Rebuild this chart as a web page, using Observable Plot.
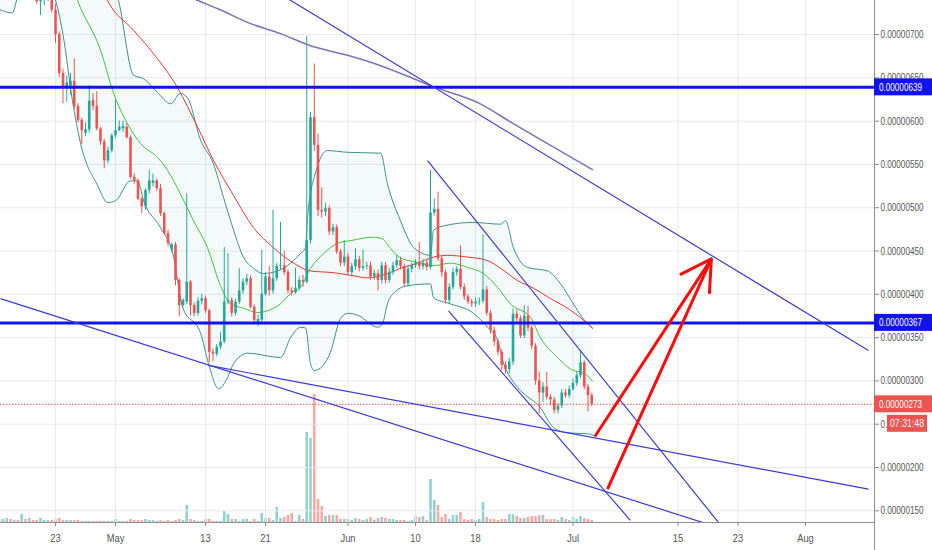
<!DOCTYPE html>
<html><head><meta charset="utf-8">
<script src="https://cdn.jsdelivr.net/npm/d3@7"></script>
<script src="https://cdn.jsdelivr.net/npm/@observablehq/plot@0.6"></script>
<style>
body{margin:0;background:#fff;}
#wrap{position:relative;width:932px;height:550px;overflow:hidden;font-family:"Liberation Sans",Arial,sans-serif;background:#fff;}
#wrap svg{position:absolute;left:0;top:0;}
.axl{position:absolute;background:#8f8f8f;}
</style></head><body><div id="wrap"></div>
<script>
// ---- time: 12h candles, slot 0 = 2019-05-01 00:00 UTC, first candle slot -31
const T0 = Date.UTC(2019, 4, 1);
const H12 = 12 * 3600 * 1000;
const slot = k => new Date(T0 + k * H12);
const firstSlot = -31;

// prices in 1e-8 units (satoshi): 639 means 0.00000639
const open = [
790,780,792,800,788,790,781,805,790,796,
775,738,740,742,745,728,700,655,638,640,
646,617,601,586,590,624,617,591,576,554,
566,583,589,591,593,581,535,531,510,501,
520,528,531,522,493,470,451,457,416,387,
391,414,387,378,392,395,381,333,331,339,
345,391,393,378,391,404,414,418,385,367,
370,400,420,404,418,432,433,425,404,402,
407,416,414,462,604,572,497,495,499,472,
477,449,436,443,425,432,440,430,432,433,
420,424,416,433,416,425,433,439,432,412,
429,433,436,432,436,431,494,498,441,425,
393,408,425,429,408,397,391,389,391,392,
405,378,358,345,333,318,313,322,377,372,
352,375,361,340,300,286,293,281,278,266,
271,286,283,290,297,306,321,293,283];
const high = [
800,798,805,808,795,796,812,810,800,800,
778,746,748,752,750,735,703,660,652,655,
672,620,603,598,641,632,634,593,579,570,
585,624,600,600,597,583,539,533,512,522,
543,539,533,527,495,474,459,460,418,395,
516,416,390,396,400,398,383,337,342,356,
454,447,396,394,430,418,423,421,388,376,
451,425,432,497,436,483,450,428,408,430,
420,422,698,610,666,585,523,505,502,481,
480,452,462,447,436,453,444,451,437,437,
428,428,437,437,430,437,445,443,435,433,
436,440,460,440,440,543,510,518,445,428,
412,430,432,456,412,400,394,396,396,469,
409,381,362,348,336,322,326,383,382,375,
387,386,364,343,310,298,310,284,281,274,
290,290,294,302,310,335,323,296,286];
const low = [
775,772,785,782,780,776,778,785,782,770,
735,722,733,738,725,690,650,620,622,630,
614,598,573,582,586,612,589,572,545,551,
563,580,588,587,579,533,527,508,493,497,
516,524,519,490,468,455,448,410,374,385,
388,375,374,375,388,378,321,322,328,336,
343,388,374,375,388,400,410,383,367,363,
367,398,398,400,415,428,422,400,398,400,
404,408,412,458,565,490,488,490,468,468,
446,432,432,421,420,428,426,427,428,416,
416,404,412,412,413,422,430,428,408,408,
425,430,428,428,427,428,490,438,420,389,
388,405,421,405,393,388,385,385,387,389,
375,354,340,329,312,308,308,318,368,349,
349,357,336,295,262,275,278,272,262,262,
268,280,280,288,294,303,290,264,270];
const close = [
780,792,800,788,790,781,805,790,796,775,
738,740,742,745,728,700,655,640,644,646,
617,601,589,590,623,617,591,576,554,566,
583,589,593,594,581,535,531,510,501,520,
531,531,522,493,470,459,457,416,387,393,
414,387,378,392,395,381,333,331,339,345,
391,393,378,391,404,414,418,385,370,371,
400,420,404,418,432,433,425,404,402,407,
416,414,462,604,572,497,495,499,472,477,
449,436,443,425,432,440,430,432,433,420,
424,416,433,416,425,433,439,432,412,429,
433,436,432,436,431,494,498,441,425,393,
408,425,429,408,397,391,389,391,392,405,
378,358,345,333,318,313,322,377,372,352,
375,361,340,300,286,293,281,278,266,271,
286,283,290,297,306,321,293,283,273];
const volume = [
2,3,4,3,2,2,8,3,4,2,
2,4,2,2,2,3,4,2,2,2,
2,2,1,1,1,1,1,1,1,1,
1,3,1,1,1,3,2,2,2,3,
2,2,1,2,1,2,1,2,3,2,
17,3,2,1,1,3,3,1,1,1,
11,8,3,3,1,3,3,1,3,1,
9,4,4,2,15,4,5,7,9,1,
7,3,90,84,128,23,16,6,7,7,
7,3,3,3,2,4,3,2,3,5,
2,4,5,4,3,3,2,2,2,1,
2,6,5,6,2,43,22,17,5,8,
3,7,7,10,3,2,3,2,3,20,
5,3,3,2,3,3,8,8,6,4,
4,5,6,6,7,7,3,3,3,2,
5,3,2,5,3,6,4,3,2];

// indicators (slot, price)
const bbUpperK = [-31,-20,-8,-2,0.8,4.8,7.5,11.2,14.7,17.3,19.2,22.7,26.1,28.8,31.5,34.1,36.8,39.5,43.2,46.7,49.3,50.7,51.2,53.3,56.5,61.9,70.7,72.5,76,79.5,84,84.8,87.5,95.2,102.7,104,106.1,109.9,115.2,118.7,122.1,124.5,127.2];
const bbUpperV = [860,880,840,770,739,653,649,633,620,632,627,578,551,512,474,443,430,424,427,436,447,454,489,540,566,564,563,528,485,454,445,474,479,483,481,485,454,431,427,412,389,373,361];
const bbLowerK = [-31,-27.5,-26,-22,-17,-14,-11.5,-9.3,-4.8,-2.1,0,4,5.9,7.5,12,15.3,17.9,22.7,24.8,27.5,29.9,31.5,35.2,44,46.7,49.3,50.7,52,53,54.7,57.3,60,61.9,64.5,69.9,71.2,72.5,74.1,77.9,84,84.8,89.3,95.5,99.2,101.9,103.5,105.3,108,113.3,116.8,120.5,125.9,127.5];
const bbLowerV = [729,725,745,765,750,700,624,574,526,506,508,531,531,508,477,447,385,355,320,291,304,320,332,327,350,362,361,320,312,315,333,372,378,376,362,366,389,401,410,412,396,389,378,362,347,320,304,289,269,246,240,239,237];
const basisK = [-14,-10.1,-4,-0.5,3.2,6.7,11.2,13.9,17.3,20.8,24.5,28,30.7,34.1,37.9,40.5,44,46.7,49.3,52,55.5,59.2,62.7,68.8,71.2,73.3,76,80.5,84.8,89.3,93.9,98.1,101.9,105.3,110.7,113.3,117.9,122.1,124.5,127.2];
const basisV = [790,739,682,632,597,574,558,543,516,485,454,410,389,384,379,381,389,401,408,430,447,459,462,466,464,453,442,437,433,436,431,424,408,389,373,350,327,312,310,300];
const ma50K = [-6,-2.1,4.8,10.1,16.5,21.9,26.1,31.5,36.8,42.1,47.5,52,58.1,62.7,67.2,72.5,76,80.5,84.8,88.5,93.9,99.2,102.7,107.2,111.5,116,120.5,124,127.2];
const ma50V = [780,739,705,678,639,593,555,514,477,454,436,427,425,422,419,424,430,436,443,445,443,439,430,416,407,395,384,373,361];
const ma200K = [17.3,22.1,27.2,35.2,44,52,61.9,70.7,79.5,84,97.3,106.1,115.2,127.2];
const ma200V = [748,739,730,714,701,687,676,664,649,641,620,597,574,544];

// drawn trend lines (slot, price) endpoints
const trendK1 = [40, -30.67, 24.8, 83.2, 88.8];
const trendV1 = [757, 395, 318, 554.5, 381];
const trendK2 = [200.8, 161.3, 200.8, 160.8, 137.3];
const trendV2 = [335, 130, 175, 136.5, 139];
// red arrows: first one carries the head, second one joins at the tip
const arrowK1 = [128, 131.2];
const arrowV1 = [237, 175];
const arrowK2 = [158.9, 158.9];
const arrowV2 = [441, 441];
const levels = [639, 367];
const lastPrice = 273;
const countdown = "07:31:48";

const yTicks = [150,200,250,300,350,400,450,500,550,600,650,700];
const xTickDates = ["2019-04-23","2019-05-01","2019-05-13","2019-05-21","2019-06-01","2019-06-10","2019-06-18","2019-07-01","2019-07-15","2019-07-23","2019-08-01"];
const xTickLabels = ["23","May","13","21","Jun","10","18","Jul","15","23","Aug"];

// ---- build tables
const TEAL = "#26a69a", RED = "#ef5350";
const candles = open.map((o, i) => ({t: slot(firstSlot + i), o, h: high[i], l: low[i], c: close[i], v: volume[i], up: close[i] >= o}));
const pts = (K, V) => K.map((k, i) => ({t: slot(k), v: V[i]}));
const upper = pts(bbUpperK, bbUpperV), lower = pts(bbLowerK, bbLowerV);
const bandPoly = upper.concat(lower.slice().reverse());
const trends = trendK1.map((k, i) => ({x1: slot(k), y1: trendV1[i], x2: slot(trendK2[i]), y2: trendV2[i]}));
const arrows = arrowK1.map((k, i) => ({x1: slot(k), y1: arrowV1[i], x2: slot(arrowK2[i]), y2: arrowV2[i]}));
const tickDates = xTickDates.map(s => new Date(s + "T00:00:00Z"));

const W = 932, H = 550, MR = 58, MB = 28;
const FONT = "'Liberation Sans', Arial, sans-serif";
const xOpt = {type: "utc", domain: [slot(-30.667), slot(202.4)]};
const font = {fontFamily: FONT, fontSize: "11px", background: "transparent", overflow: "visible"};

const volPlot = Plot.plot({
  width: W, height: H, marginLeft: 0, marginRight: MR, marginTop: 0, marginBottom: MB,
  style: {...font, background: "#fff"},
  x: {...xOpt, axis: null},
  y: {domain: [0, 522], axis: null},
  marks: [
    Plot.ruleX(candles, {x: "t", y1: 0, y2: "v", stroke: d => d.up ? TEAL : RED, strokeOpacity: 0.5, strokeWidth: 2.6})
  ]
});

const pricePlot = Plot.plot({
  width: W, height: H, marginLeft: 0, marginRight: MR, marginTop: 0, marginBottom: MB,
  style: font,
  x: xOpt,
  y: {domain: [136.5, 739.3]},
  marks: [
    Plot.gridY(yTicks, {stroke: "#e6e9ef", strokeOpacity: 1}),
    Plot.gridX(tickDates, {stroke: "#e6e9ef", strokeOpacity: 1}),
    Plot.line(bandPoly, {x: "t", y: "v", fill: "#26a69a", fillOpacity: 0.055, stroke: null, curve: "linear", clip: true}),
    Plot.line(upper, {x: "t", y: "v", stroke: "#3d9188", strokeWidth: 1, curve: "monotone-x", clip: true}),
    Plot.line(lower, {x: "t", y: "v", stroke: "#3d9188", strokeWidth: 1, curve: "monotone-x", clip: true}),
    Plot.line(pts(basisK, basisV), {x: "t", y: "v", stroke: "#3cc43c", strokeWidth: 1, curve: "monotone-x", clip: true}),
    Plot.line(pts(ma50K, ma50V), {x: "t", y: "v", stroke: "#e8332f", strokeWidth: 1, curve: "monotone-x", clip: true}),
    Plot.line(pts(ma200K, ma200V), {x: "t", y: "v", stroke: "#7c72bd", strokeWidth: 1.5, curve: "monotone-x", clip: true}),
    Plot.ruleX(candles, {x: "t", y1: "l", y2: "h", stroke: d => d.up ? TEAL : RED, strokeWidth: 1, clip: true}),
    Plot.ruleX(candles, {x: "t", y1: "o", y2: "c", stroke: d => d.up ? TEAL : RED, strokeWidth: 2.6, clip: true}),
    Plot.ruleY([lastPrice], {stroke: RED, strokeWidth: 1, strokeDasharray: "1.5,1.5"}),
    Plot.ruleY(levels, {stroke: "#1212ee", strokeWidth: 3}),
    Plot.link(trends, {x1: "x1", y1: "y1", x2: "x2", y2: "y2", stroke: "#3b3bd6", strokeWidth: 1.2, clip: true}),
    Plot.link(arrows.slice(1), {x1: "x1", y1: "y1", x2: "x2", y2: "y2", stroke: "#ff0a0a", strokeWidth: 3}),
    Plot.arrow(arrows.slice(0, 1), {x1: "x1", y1: "y1", x2: "x2", y2: "y2", stroke: "#ff0a0a", strokeWidth: 3, headLength: 17, headAngle: 60}),
    Plot.axisY({ticks: yTicks, anchor: "right", tickSize: 4, tickPadding: 2, label: null, tickFormat: d => (d / 1e8).toFixed(8), fill: "#555", stroke: "#888"}),
    Plot.axisX({ticks: tickDates, anchor: "bottom", tickSize: 4, tickPadding: 8, label: null, tickFormat: d => xTickLabels[tickDates.findIndex(t => +t === +d)], fill: "#555", stroke: "#888"})
  ]
});

const wrap = document.getElementById("wrap");
wrap.appendChild(volPlot);
wrap.appendChild(pricePlot);

// condense axis texts to the narrow look of the original
pricePlot.querySelectorAll("text").forEach(t => {
  const s = t.textContent, w = t.getComputedTextLength();
  if (!(w > 0)) return;
  const target = /^0\.\d{8}$/.test(s) ? 43 : w * 0.85;
  if (w > target) { t.setAttribute("textLength", target.toFixed(1)); t.setAttribute("lengthAdjust", "spacingAndGlyphs"); }
});

// axis lines
const vline = document.createElement("div");
vline.className = "axl"; vline.style.cssText = `left:${W - MR}px;top:0;width:1px;height:${H}px;`;
wrap.appendChild(vline);
const hline = document.createElement("div");
hline.className = "axl"; hline.style.cssText = `left:0;top:${H - MB}px;width:${W - MR}px;height:1px;`;
wrap.appendChild(hline);

// price labels on the axis, placed with the plot's y scale
const ys = pricePlot.scale("y");
const overlay = d3.create("svg").attr("width", W).attr("height", H)
  .style("position", "absolute").style("left", 0).style("top", 0)
  .attr("font-family", FONT).attr("font-size", 11);
wrap.appendChild(overlay.node());
function box(text, v, bg, left, width, dy, center, len) {
  const cy = ys.apply(v) + dy;
  overlay.append("rect").attr("x", left).attr("y", cy - 8.5).attr("width", width).attr("height", 17).attr("fill", bg);
  const t = overlay.append("text").attr("x", center ? left + width / 2 : left + 5).attr("y", cy).attr("dy", "0.35em")
    .attr("fill", "#fff").attr("text-anchor", center ? "middle" : "start").text(text);
  const w = t.node().getComputedTextLength();
  if (w > len + 1) t.attr("textLength", len).attr("lengthAdjust", "spacingAndGlyphs");
}
const fmt = v => (v / 1e8).toFixed(8);
levels.forEach(v => box(fmt(v), v, "#1212ee", W - MR, MR, 0, false, 43));
box(fmt(lastPrice), lastPrice, RED, W - MR, MR, 0, false, 43);
box(countdown, lastPrice, RED, 887, 40, 19.5, true, 34);
</script></body></html>
